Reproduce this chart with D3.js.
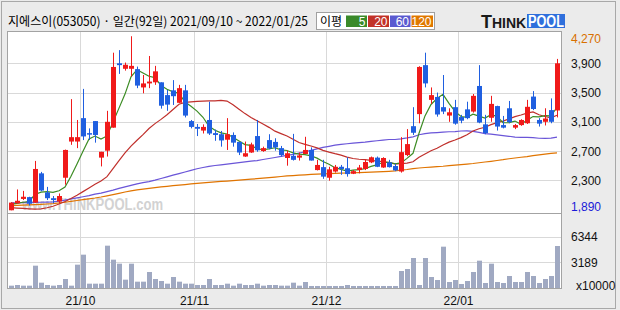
<!DOCTYPE html>
<html><head><meta charset="utf-8">
<script src="https://cdn.jsdelivr.net/npm/d3@7"></script>
<style>body{margin:0;background:#ebebeb}svg{display:block}</style>
</head><body><svg id="c" width="620" height="310"></svg>
<script>
// ---- data ----
const title = "지에스이(053050) · 일간(92일) 2021/09/10 ~ 2022/01/25";
const openP = [1890,1985,2045,2070,1995,2395,2135,2055,2010,2335,2830,2830,3150,2945,3110,2610,2705,3020,3900,3825,3825,3820,3570,3625,3640,3640,3465,3530,3360,3530,3110,3030,2980,3125,2945,2930,2855,2920,2825,2625,2680,2905,2700,2850,2825,2740,2605,2635,2610,2660,2715,2440,2480,2335,2420,2485,2465,2390,2440,2455,2545,2610,2475,2545,2495,2420,2645,3040,3205,3875,3400,3440,3300,3185,3300,3165,3270,3240,3590,3065,3155,3315,3055,3285,3020,3055,3080,3445,3125,3100,3260,3255];
const highP = [2000,2175,2155,2075,2565,2415,2210,2085,2120,2720,3410,3125,3550,3010,3110,2690,3250,4045,4080,3910,4270,3855,3740,4000,3865,3640,3535,3670,3605,3605,3125,3070,3065,3375,2995,2975,3150,2955,2825,2830,2815,3125,2760,2930,2875,2770,2705,2935,2680,2895,2750,2580,2580,2485,2510,2510,2615,2440,2510,2585,2625,2625,2615,2580,2525,2890,3000,3300,3860,4045,3570,3500,3740,3285,3400,3195,3375,3480,3875,3195,3455,3320,3180,3385,3070,3135,3400,3520,3150,3285,3420,3960];
const lowP = [1890,1980,2030,1955,1990,2150,2030,1985,1985,2240,2785,2740,2850,2850,2815,2490,2625,3020,3755,3800,3720,3560,3490,3560,3605,3280,3250,3330,3355,3160,3010,2905,2940,2920,2840,2760,2715,2760,2645,2620,2675,2690,2690,2725,2705,2625,2500,2570,2570,2660,2570,2435,2320,2295,2405,2375,2350,2385,2395,2440,2535,2480,2470,2475,2425,2405,2630,2920,3080,3570,3345,3170,3205,3100,3060,3080,3135,3225,3080,2930,3100,2980,3010,3080,3000,3045,3070,3260,3035,3050,3080,3160];
const closeP = [1995,2020,2075,1980,2455,2160,2055,2030,2085,2715,2890,2890,2900,2925,2920,2690,3100,3850,3875,3880,3865,3595,3625,3650,3790,3320,3335,3450,3560,3185,3030,3005,3030,2940,2920,2845,2930,2815,2680,2670,2790,2710,2740,2735,2750,2645,2670,2580,2640,2715,2570,2510,2350,2450,2485,2455,2385,2425,2475,2550,2615,2485,2605,2480,2435,2685,2795,2950,3850,3625,3465,3200,3240,3230,3075,3115,3150,3455,3090,2945,3345,3035,3020,3095,3055,3125,3305,3275,3075,3145,3100,3900];
const volume = [290,372,290,290,2770,660,372,290,372,1116,290,2896,4136,537,537,537,5252,3515,3019,1034,3019,785,785,1984,1116,868,537,1364,785,537,537,372,372,1116,372,372,537,290,537,372,372,537,290,372,372,290,290,660,290,744,250,250,250,250,250,250,372,250,250,250,250,250,250,250,250,2110,2358,3722,372,3722,1364,992,5128,744,992,496,868,1984,3390,620,3019,744,620,1488,744,744,1984,1488,620,1116,1488,5210];
const ma5 = [1970,1985,2000,2010,2105,2138,2145,2136,2157,2209,2355,2522,2696,2864,2905,2865,2907,3097,3287,3479,3714,3813,3768,3723,3705,3596,3544,3509,3491,3370,3312,3246,3162,3038,2985,2948,2933,2890,2838,2788,2777,2733,2718,2729,2745,2716,2708,2676,2657,2650,2635,2603,2557,2519,2473,2450,2425,2440,2445,2458,2490,2510,2546,2547,2524,2538,2600,2669,2943,3181,3337,3418,3476,3352,3242,3172,3162,3205,3177,3151,3197,3174,3087,3088,3110,3066,3120,3171,3167,3185,3180,3299];
const ma20 = [1925,1920,1915,1910,1905,1910,1925,1945,1975,2010,2050,2095,2145,2195,2245,2290,2350,2460,2570,2675,2768,2847,2924,3008,3075,3133,3197,3268,3341,3365,3372,3378,3384,3385,3385,3393,3384,3332,3273,3212,3158,3114,3070,3024,2972,2938,2905,2862,2816,2792,2769,2744,2710,2686,2664,2645,2617,2598,2588,2582,2573,2562,2555,2542,2526,2528,2535,2553,2614,2659,2704,2738,2783,2822,2851,2884,2923,2974,3005,3025,3061,3089,3109,3140,3171,3193,3219,3235,3196,3172,3154,3189];
const ma60 = [1990,1992,1994,1996,1998,2000,2002,2005,2015,2030,2045,2060,2075,2090,2110,2125,2145,2165,2190,2210,2230,2250,2268,2283,2303,2325,2347,2370,2392,2414,2436,2458,2475,2490,2502,2512,2522,2532,2542,2552,2562,2570,2584,2598,2612,2626,2640,2655,2672,2690,2710,2730,2750,2765,2780,2790,2800,2808,2815,2823,2833,2841,2850,2858,2858,2866,2879,2894,2923,2939,2948,2953,2959,2964,2967,2974,2975,2968,2955,2939,2931,2921,2911,2902,2890,2887,2886,2883,2875,2874,2876,2890];
const ma120 = [1955,1957,1960,1963,1967,1971,1976,1982,1990,2000,2012,2024,2036,2047,2058,2072,2088,2105,2122,2140,2155,2168,2180,2190,2200,2210,2218,2226,2234,2242,2250,2258,2265,2272,2278,2284,2290,2296,2302,2308,2315,2322,2330,2337,2344,2352,2360,2365,2370,2375,2380,2384,2388,2391,2394,2397,2400,2403,2406,2409,2412,2415,2419,2423,2428,2438,2448,2460,2468,2475,2481,2486,2492,2500,2508,2515,2522,2530,2540,2550,2560,2571,2582,2595,2605,2615,2625,2637,2648,2658,2667,2675];
const priceTicks = [3900,3500,3100,2700,2300];
const maxLabel = 4270, minLabel = 1890;
const volTicks = [6344,3189];
const volUnit = "x10000";
const monthLabels = ["21/10","21/11","21/12","22/01"];
const monthIdx = [12,31,53,75];
const maNames = ["5","20","60","120"];

// ---- styles ----
const C = {up:"#f01a1a", down:"#1f5fe0", ma:["#3c8c24","#c0302c","#6a55d8","#e07400"],
  legend:["#3a8a2a","#c23228","#5a5ad0","#e07800"], grid:"#d9d9d9", frame:"#a3a3a3", vol:"#a0a9c2"};
const n = closeP.length;
const svg = d3.select("#c");
const L = 8, R = 560, PT = 31.5, PB = 213.5, VB = 288.5;

svg.append("rect").attr("x",0).attr("y",0).attr("width",620).attr("height",310).attr("fill","#ebebeb");
svg.append("rect").attr("x",1.5).attr("y",1.5).attr("width",614).attr("height",307).attr("fill","none").attr("stroke","#a8a8a8");

const x = d3.scaleBand().domain(d3.range(n)).range([L,R]).padding(0);
const y = d3.scaleLinear().domain([2300,3900]).range([180.3,63.3]);
const yv = d3.scaleLinear().domain([0,3189]).range([288,262.3]);
const cx = i => x(i) + x.bandwidth()/2;

// panels
svg.append("rect").attr("x",7.5).attr("y",PT).attr("width",R-7.5+1.5).attr("height",VB-PT).attr("fill","#fff");

const g = svg.append("g");
// grid
g.selectAll(".hg").data(priceTicks).join("line").attr("x1",8).attr("x2",561).attr("y1",d=>Math.round(y(d))+0.5).attr("y2",d=>Math.round(y(d))+0.5).attr("stroke",C.grid);
g.selectAll(".vg").data(volTicks).join("line").attr("x1",8).attr("x2",561).attr("y1",d=>Math.round(yv(d))+0.5).attr("y2",d=>Math.round(yv(d))+0.5).attr("stroke",C.grid);
g.selectAll(".mg").data(monthIdx).join("line").attr("x1",d=>Math.round(x(d))+0.5).attr("x2",d=>Math.round(x(d))+0.5).attr("y1",PT).attr("y2",VB).attr("stroke",C.grid);

// watermark
g.append("text").attr("x",22).attr("y",210).attr("font-family","Liberation Sans, Arial").attr("font-weight","bold").attr("font-size",16)
 .attr("textLength",141).attr("lengthAdjust","spacingAndGlyphs").attr("fill","#d2d2d2").text("www.THINKPOOL.com");

// frames
svg.append("rect").attr("x",7.5).attr("y",PT).attr("width",554).attr("height",VB-PT).attr("fill","none").attr("stroke",C.frame);
svg.append("line").attr("x1",7.5).attr("x2",561.5).attr("y1",PB).attr("y2",PB).attr("stroke",C.frame);

// MA lines
[ma120,ma60,ma20,ma5].forEach((arr,k)=>{
  const col = C.ma[3-k];
  g.append("path").datum(arr).attr("fill","none").attr("stroke",col).attr("stroke-width",1.2)
   .attr("d", d3.line().x((d,i)=>cx(i)).y(d=>y(d)));
});

// candles
const cg = g.append("g");
d3.range(n).forEach(i=>{
  const up = closeP[i] >= openP[i];
  const col = up ? C.up : C.down;
  const xm = Math.round(x(i)+3)+0.5;
  cg.append("line").attr("x1",xm).attr("x2",xm).attr("y1",y(highP[i])).attr("y2",y(lowP[i])).attr("stroke",col);
  const top = y(Math.max(openP[i],closeP[i])), bot = y(Math.min(openP[i],closeP[i]));
  cg.append("rect").attr("x",Math.round(x(i))+1).attr("width",5).attr("y",top).attr("height",Math.max(1.5,bot-top)).attr("fill",col);
});

// volume
g.selectAll(".vb").data(volume).join("rect").attr("x",(d,i)=>Math.round(x(i))+1).attr("width",5)
 .attr("y",d=>yv(d)).attr("height",d=>288-yv(d)).attr("fill",C.vol);

// right labels
const lab = svg.append("g").attr("font-family","Liberation Sans, Arial").attr("font-size",12).attr("fill","#111");
lab.selectAll(".pl").data(priceTicks).join("text").attr("x",571).attr("y",d=>y(d)+4.5).text(d=>d3.format(",")(d));
lab.append("text").attr("x",571).attr("y",y(maxLabel)+6.5).attr("fill","#d87000").text(d3.format(",")(maxLabel));
lab.append("text").attr("x",571).attr("y",211).attr("fill","#1a1ad8").text(d3.format(",")(minLabel));
lab.selectAll(".vl").data(volTicks).join("text").attr("x",571).attr("y",d=>yv(d)+4.5).text(d=>d);
lab.append("text").attr("x",576).attr("y",290).text(volUnit);
lab.selectAll(".ml").data(monthIdx).join("text").attr("x",d=>x(d)+0.5).attr("y",305).attr("text-anchor","middle").text((d,i)=>monthLabels[i]);

// header
svg.append("text").attr("x",8).attr("y",26).attr("font-family","Noto Sans CJK KR").attr("font-size",12.5)
 .attr("textLength",300).attr("lengthAdjust","spacingAndGlyphs").attr("fill","#000").text(title);

// legend
const lg = svg.append("g");
lg.append("rect").attr("x",316.5).attr("y",12.5).attr("width",118).attr("height",17).attr("fill","#fff").attr("stroke","#a0a0a0");
lg.append("text").attr("x",320).attr("y",25.5).attr("font-family","Noto Sans CJK KR").attr("font-size",12).text("이평");
const boxes = [[346,21],[368,21],[390,20.5],[411.5,21.5]];
boxes.forEach((b,k)=>{
  lg.append("rect").attr("x",b[0]).attr("y",15.5).attr("width",b[1]).attr("height",11.5).attr("fill",C.legend[k]);
  lg.append("text").attr("x",b[0]+b[1]-1.5).attr("y",25.5).attr("text-anchor","end").attr("font-family","Liberation Sans, Arial")
    .attr("font-size",12).attr("fill","#fff").text(maNames[k]);
});

// logo
const lo = svg.append("g").attr("font-family","Liberation Sans, Arial").attr("font-weight","bold");
const t1 = lo.append("text").attr("x",481).attr("y",27.5).attr("fill","#1a1a1a");
t1.append("tspan").attr("font-size",18).text("T");
t1.append("tspan").attr("font-size",14).text("HINK");
lo.append("rect").attr("x",527).attr("y",14).attr("width",38).attr("height",14).attr("fill","#2f6fdc");
lo.append("text").attr("x",546).attr("y",27).attr("text-anchor","middle").attr("font-size",16).attr("fill","#fff")
  .attr("textLength",36).attr("lengthAdjust","spacingAndGlyphs").text("POOL");
</script></body></html>
